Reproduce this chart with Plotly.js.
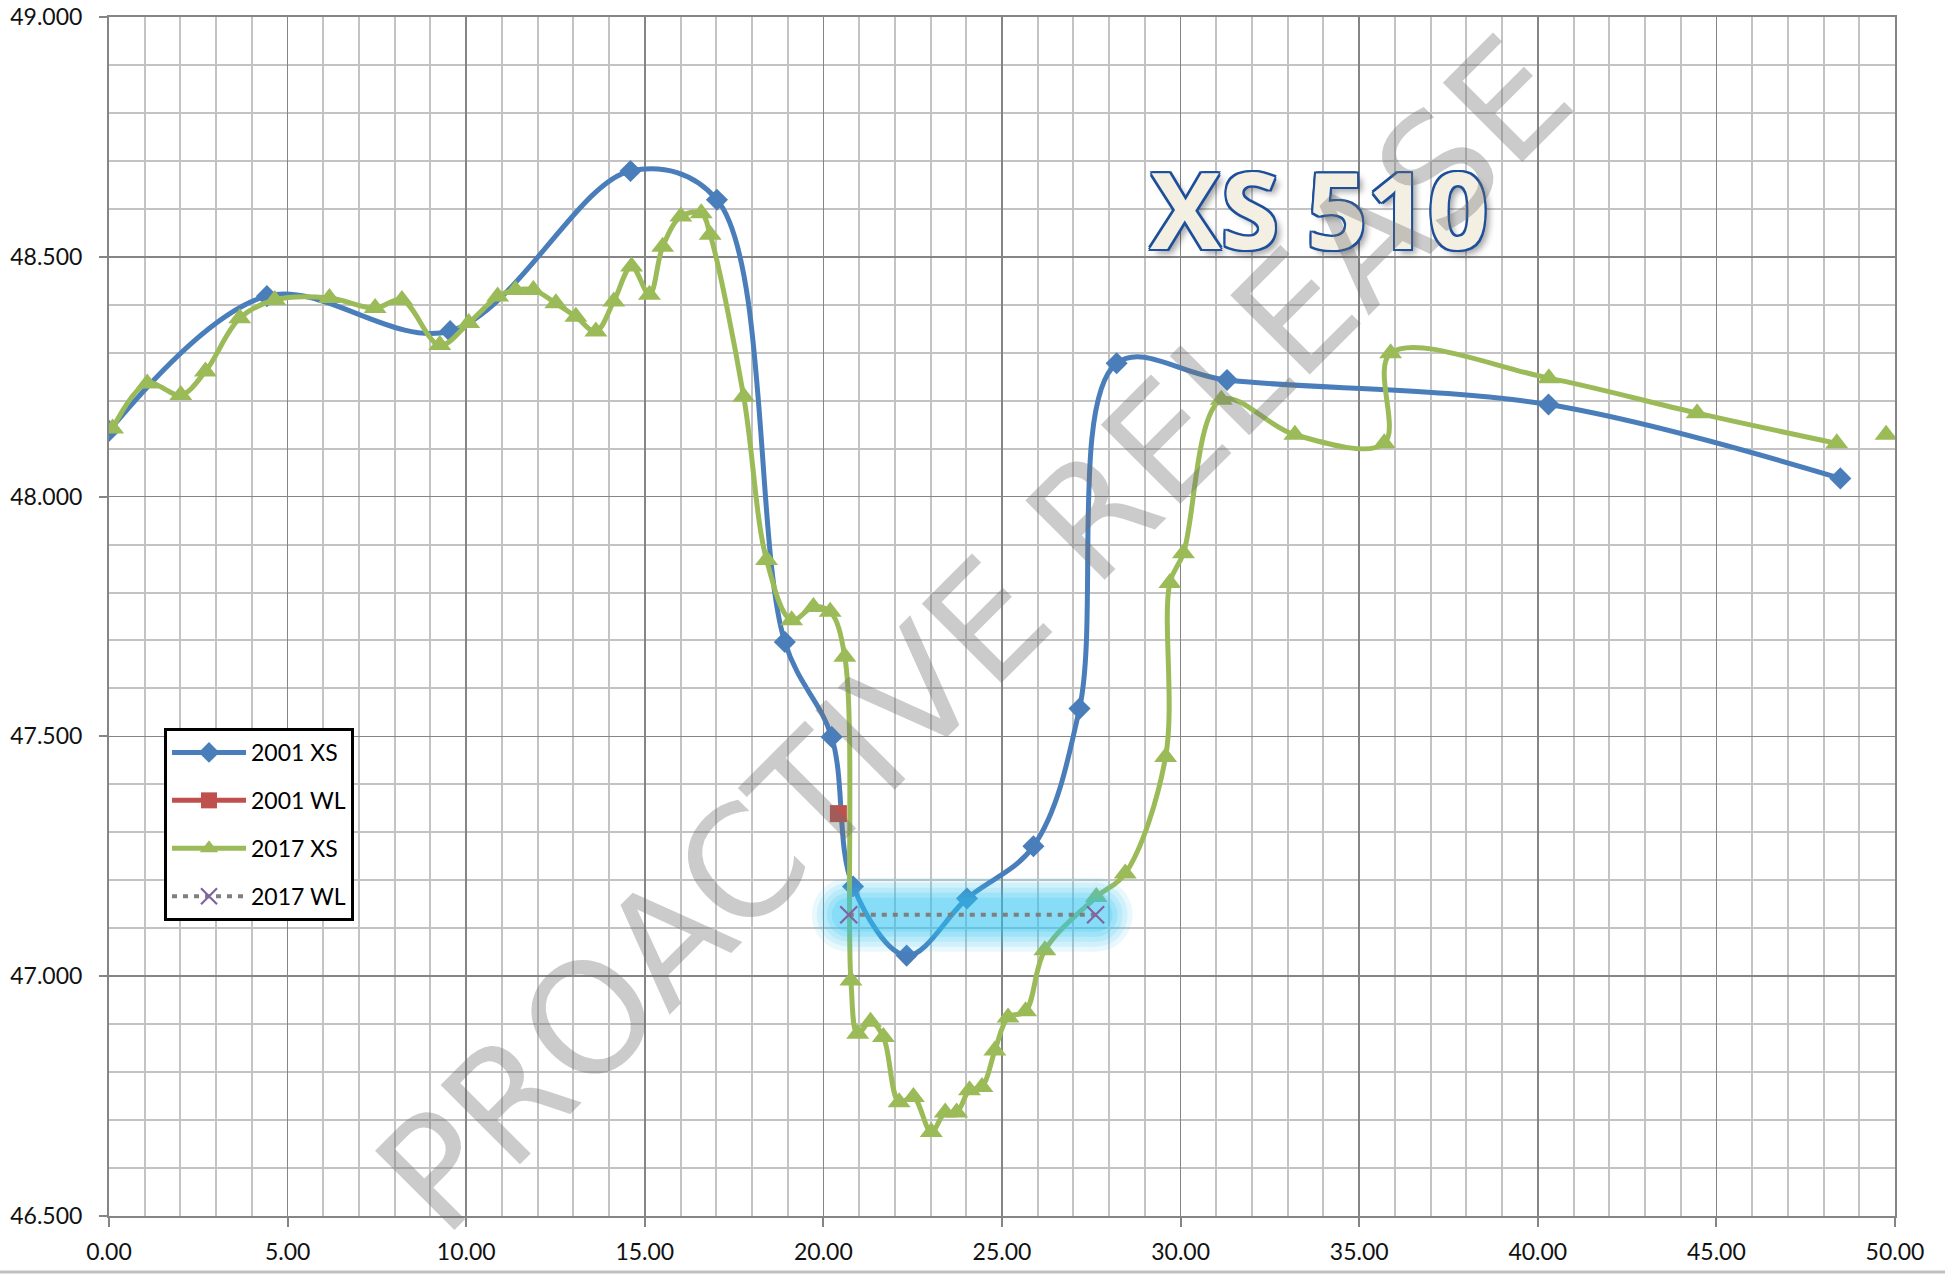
<!DOCTYPE html>
<html>
<head>
<meta charset="utf-8">
<script src="https://cdn.plot.ly/plotly-3.0.1.min.js"></script>
<style>html,body{margin:0;padding:0;background:#fff;}#chart{width:1945px;height:1274px;}</style>
</head>
<body>
<div id="chart"></div>
<script>
// 2001 cross-section (chainage, level)
const xs2001X = [0, 4.42, 9.55, 14.6, 17.02, 18.92, 20.23, 20.83, 22.33, 24.02, 25.88, 27.17, 28.21, 31.3, 40.3, 48.47];
const xs2001Y = [48.137, 48.418, 48.345, 48.679, 48.619, 47.697, 47.499, 47.187, 47.043, 47.162, 47.271, 47.558, 48.278, 48.243, 48.192, 48.038];

// 2001 water level
const wl2001X = [20.42];
const wl2001Y = [47.339];

// 2017 cross-section (last point stands alone, separated by a gap)
const xs2017X = [0.1, 1.07, 2.01, 2.7, 3.66, 4.64, 6.17, 7.45, 8.2, 9.26, 10.07, 10.88, 11.38, 11.88, 12.51, 13.07, 13.63, 14.13, 14.63, 15.13, 15.5, 16.01, 16.58, 16.83, 17.77, 18.41, 19.11, 19.72, 20.19, 20.6, 20.77, 20.96, 21.32, 21.68, 22.12, 22.52, 23.02, 23.41, 23.73, 24.09, 24.44, 24.8, 25.17, 25.66, 26.2, 27.64, 28.45, 29.58, 29.7, 30.08, 31.14, 33.2, 35.7, 35.88, 40.31, 44.46, 48.37, null, 49.75];
const xs2017Y = [48.142, 48.236, 48.212, 48.261, 48.372, 48.410, 48.414, 48.393, 48.410, 48.316, 48.362, 48.417, 48.431, 48.431, 48.403, 48.375, 48.344, 48.407, 48.480, 48.421, 48.521, 48.584, 48.591, 48.546, 48.208, 47.868, 47.742, 47.770, 47.760, 47.666, 46.991, 46.880, 46.905, 46.873, 46.737, 46.748, 46.675, 46.716, 46.716, 46.762, 46.769, 46.845, 46.914, 46.927, 47.054, 47.165, 47.214, 47.457, 47.820, 47.882, 48.202, 48.129, 48.111, 48.299, 48.247, 48.174, 48.111, null, 48.129];

// 2017 water level
const wl2017X = [20.71, 27.62];
const wl2017Y = [47.128, 47.128];

const seriesNames = ['2001 XS', '2001 WL', '2017 XS', '2017 WL'];
const chartLabel = 'XS 510';
const watermark = 'PROACTIVE RELEASE';

const BLUE = '#4a7ebb', RED = '#c0504d', GREEN = '#9bbb59', PURPLE = '#8064a2', GREY = '#7f7f7f';
const GLOW = '#2cc6f4';

const traces = [
  {x: xs2001X, y: xs2001Y, name: seriesNames[0], legendgroup: 'a', mode: 'lines+markers',
   line: {color: BLUE, width: 5, shape: 'spline', smoothing: 1},
   marker: {symbol: 'diamond', size: 17, color: BLUE}},
  {x: wl2001X, y: wl2001Y, name: seriesNames[1], legendgroup: 'b', mode: 'lines+markers',
   line: {color: RED, width: 5},
   marker: {symbol: 'square', size: 17, color: RED}},
  {x: xs2017X, y: xs2017Y, name: seriesNames[2], legendgroup: 'c', mode: 'lines+markers',
   line: {color: GREEN, width: 5, shape: 'spline', smoothing: 1},
   marker: {symbol: 'triangle-up', size: 20, color: GREEN}, connectgaps: false}
];
// soft glow behind the 2017 water level
[[74, 0.1], [64, 0.12], [54, 0.14], [44, 0.17], [34, 0.2]].forEach(function (g) {
  traces.push({x: wl2017X, y: wl2017Y, mode: 'lines+markers', showlegend: false, hoverinfo: 'skip',
    opacity: g[1], line: {color: GLOW, width: g[0]},
    marker: {symbol: 'circle', size: g[0], color: GLOW}});
});
traces.push({x: wl2017X, y: wl2017Y, name: seriesNames[3], legendgroup: 'd', mode: 'lines+markers',
  line: {color: GREY, width: 4, dash: '5px,6px'},
  marker: {symbol: 'x-thin', size: 17, line: {color: PURPLE, width: 2.2}, color: PURPLE}});

const tickFont = {family: 'Lato, "Open Sans", sans-serif', size: 23, color: '#111111'};

const layout = {
  width: 1945, height: 1274,
  margin: {l: 109, r: 50, t: 17, b: 58, pad: 0},
  paper_bgcolor: '#ffffff', plot_bgcolor: '#ffffff',
  showlegend: true,
  legend: {x: 0.0308, y: 0.407, xanchor: 'left', yanchor: 'top',
    bgcolor: '#ffffff', bordercolor: '#000000', borderwidth: 3,
    font: {family: 'Lato, sans-serif', size: 23, color: '#000'},
    traceorder: 'grouped', tracegroupgap: 15, itemwidth: 74},
  xaxis: {range: [0, 50], tick0: 0, dtick: 5, tickformat: '.2f',
    showgrid: true, gridcolor: '#858585', gridwidth: 1.5,
    minor: {dtick: 1, showgrid: true, gridcolor: '#c3c3c3', gridwidth: 2},
    showline: true, linecolor: '#858585', linewidth: 2, mirror: true,
    ticks: 'outside', ticklen: 9, tickwidth: 2, tickcolor: '#858585',
    ticklabelstandoff: 5, tickfont: tickFont, zeroline: false},
  yaxis: {range: [46.5, 49], tick0: 46.5, dtick: 0.5, tickformat: '.3f',
    showgrid: true, gridcolor: '#858585', gridwidth: 1.5,
    minor: {dtick: 0.1, showgrid: true, gridcolor: '#c3c3c3', gridwidth: 2},
    showline: true, linecolor: '#858585', linewidth: 2, mirror: true,
    ticks: 'outside', ticklen: 8, tickwidth: 2, tickcolor: '#858585',
    ticklabelstandoff: 12, tickfont: tickFont, zeroline: false},
  shapes: [
    {type: 'line', xref: 'paper', yref: 'paper', x0: -0.07, x1: 1.03, y0: -0.0467, y1: -0.0467,
     line: {color: '#c0c0c0', width: 3}}
  ],
  annotations: [
    {text: chartLabel, xref: 'paper', yref: 'paper', x: 0.6775, y: 0.8403, xanchor: 'center', yanchor: 'middle',
     showarrow: false,
     font: {family: '"Open Sans", sans-serif', size: 106, weight: 700, color: '#f3f0e3',
       shadow: '2px 0 0 #1d4f9a, -2px 0 0 #1d4f9a, 0 2px 0 #1d4f9a, 0 -2px 0 #1d4f9a, 2px 2px 0 #1d4f9a, -2px -2px 0 #1d4f9a, 2px -2px 0 #1d4f9a, -2px 2px 0 #1d4f9a, 5px 5px 6px rgba(0,0,0,0.35)'}},
    {text: watermark, xref: 'paper', yref: 'paper', x: 0.4843, y: 0.4854, xanchor: 'center', yanchor: 'middle',
     showarrow: false, textangle: -45,
     font: {family: '"DejaVu Sans", sans-serif', size: 154, color: 'rgba(110,110,110,0.36)'}}
  ]
};

Plotly.newPlot('chart', traces, layout, {staticPlot: true, displayModeBar: false});
</script>
</body>
</html>
